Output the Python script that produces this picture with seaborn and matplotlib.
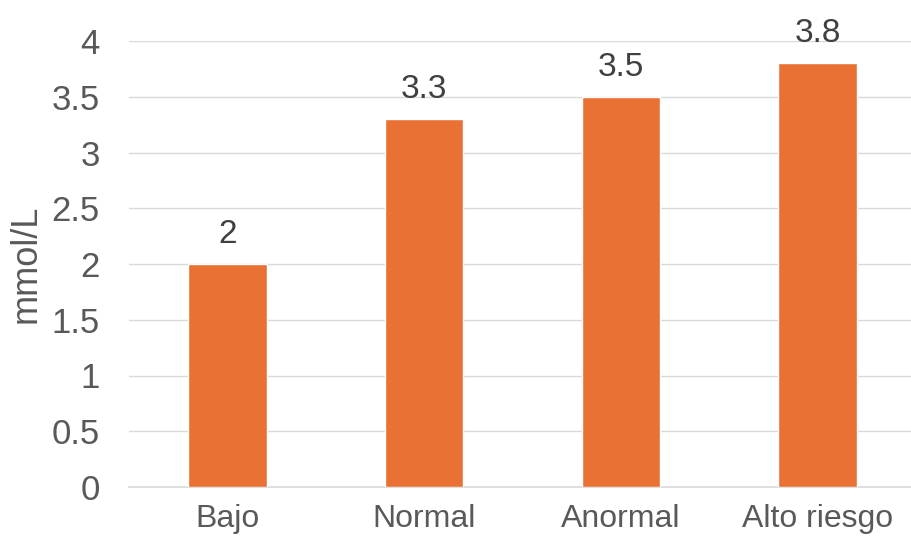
import matplotlib
matplotlib.use("Agg")
import matplotlib.pyplot as plt
import seaborn as sns
import pandas as pd

# Categorías y valores (mmol/L)
categorias = ["Bajo", "Normal", "Anormal", "Alto riesgo"]
valores = [2.0, 3.3, 3.5, 3.8]
marcas_y = [0, 0.5, 1, 1.5, 2, 2.5, 3, 3.5, 4]
etiquetas_y = ["0", "0.5", "1", "1.5", "2", "2.5", "3", "3.5", "4"]

sns.set_theme(style="white")
plt.rcParams["font.family"] = ["Liberation Sans", "DejaVu Sans"]

texto = "#595959"
naranja = "#EA7134"
rejilla = "#D9D9D9"

df = pd.DataFrame({"categoria": categorias, "valor": valores})

fig = plt.figure(figsize=(9.11, 5.46), dpi=100)
# el área de trazado se prolonga un poco más allá del borde derecho
ax = fig.add_axes([129 / 911, 59 / 546, 787 / 911, 446 / 546])

sns.barplot(data=df, x="categoria", y="valor", color=naranja, width=0.4,
            saturation=1, ax=ax, zorder=3)

ax.set_ylim(0, 4)
ax.set_xlim(-0.5, 3.5)
ax.set_yticks(marcas_y)
ax.set_yticklabels(etiquetas_y)
ax.yaxis.grid(True, color=rejilla, linewidth=1, zorder=0)
ax.set_axisbelow(True)

for lado in ["top", "right", "left"]:
    ax.spines[lado].set_visible(False)
ax.spines["bottom"].set_color(rejilla)
ax.spines["bottom"].set_linewidth(1.2)

ax.tick_params(axis="y", length=0, pad=21, labelsize=25, labelcolor=texto)
ax.tick_params(axis="x", length=0, pad=12, labelsize=23, labelcolor=texto)

ax.set_xlabel("")
ax.set_ylabel("mmol/L", fontsize=26, color=texto, labelpad=6)

ax.bar_label(ax.containers[0], labels=[f"{v:g}" for v in valores],
             padding=10, fontsize=24, color="#404040")

fig.savefig("out.png", dpi=100)
